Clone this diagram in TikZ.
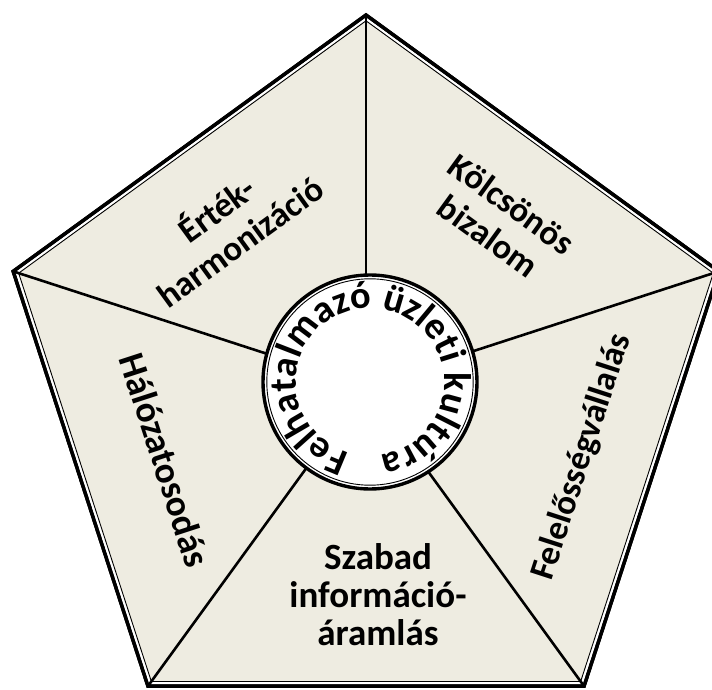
\documentclass[tikz,border=0pt]{standalone}
\usepackage{fontspec}
\setmainfont{Carlito}
\usetikzlibrary{decorations.text}
\definecolor{sectorfill}{RGB}{238,236,225}
\begin{document}
\begin{tikzpicture}[x=1pt,y=1pt,
  outerline/.style={line width=3.4pt, line join=miter},
  innerline/.style={line width=0.9pt, line join=miter},
  divider/.style={line width=2.6pt},
  sectortext/.style={font=\bfseries\fontsize{35}{40}\selectfont, align=center, inner sep=0pt},
  bigtext/.style={font=\bfseries\fontsize{37}{38}\selectfont, align=center, inner sep=0pt},
]
\useasboundingbox (0,0) rectangle (712,689);
\clip (0,0) rectangle (712,689);
\fill[white] (0,0) rectangle (712,689);
\begin{scope}[shift={(366,303)}]
  \coordinate (pc) at (0,0);
  \coordinate (T) at (90:371);
  \coordinate (R) at (18:371);
  \coordinate (BR) at (-54:371);
  \coordinate (BL) at (-126:371);
  \coordinate (L) at (162:371);
  \coordinate (Ti) at (90:365.2);
  \coordinate (Ri) at (18:365.2);
  \coordinate (BRi) at (-54:365.2);
  \coordinate (BLi) at (-126:365.2);
  \coordinate (Li) at (162:365.2);
\end{scope}
\draw[outerline, fill=white] (T) -- (R) -- (BR) -- (BL) -- (L) -- cycle;
\draw[innerline, fill=sectorfill] (Ti) -- (Ri) -- (BRi) -- (BLi) -- (Li) -- cycle;
\draw[divider] (T) -- (pc);
\draw[divider] (R) -- (pc);
\draw[divider] (BR) -- (pc);
\draw[divider] (BL) -- (pc);
\draw[divider] (L) -- (pc);
\draw[outerline] (T) -- (R) -- (BR) -- (BL) -- (L) -- cycle;
\node[circle, draw, outerline, fill=white, minimum size=214pt, inner sep=0pt] (hub) at (370,307) {};
\draw[innerline] (hub.center) circle[radius=103.2];
\path[decorate, decoration={text along path, text={|\bfseries\fontsize{38.5}{40}\selectfont|Felhatalmazó üzleti kultúra}, text align=center}]
  (hub.center) ++(266:74) arc[start angle=266, end angle=-94, radius=74];
\node[sectortext, rotate=36] (t1) at (227,465) {Érték-\\harmonizáció};
\node[sectortext, rotate=-36] (t2) at (500,469) {Kölcsönös\\bizalom};
\node[sectortext, rotate=72] (t3) at (582,232) {Felelősségvállalás};
\node[bigtext] (t4) at (378,94) {Szabad\\információ-\\áramlás};
\node[bigtext, rotate=-72] (t5) at (165,229) {Hálózatosodás};
\end{tikzpicture}
\end{document}
